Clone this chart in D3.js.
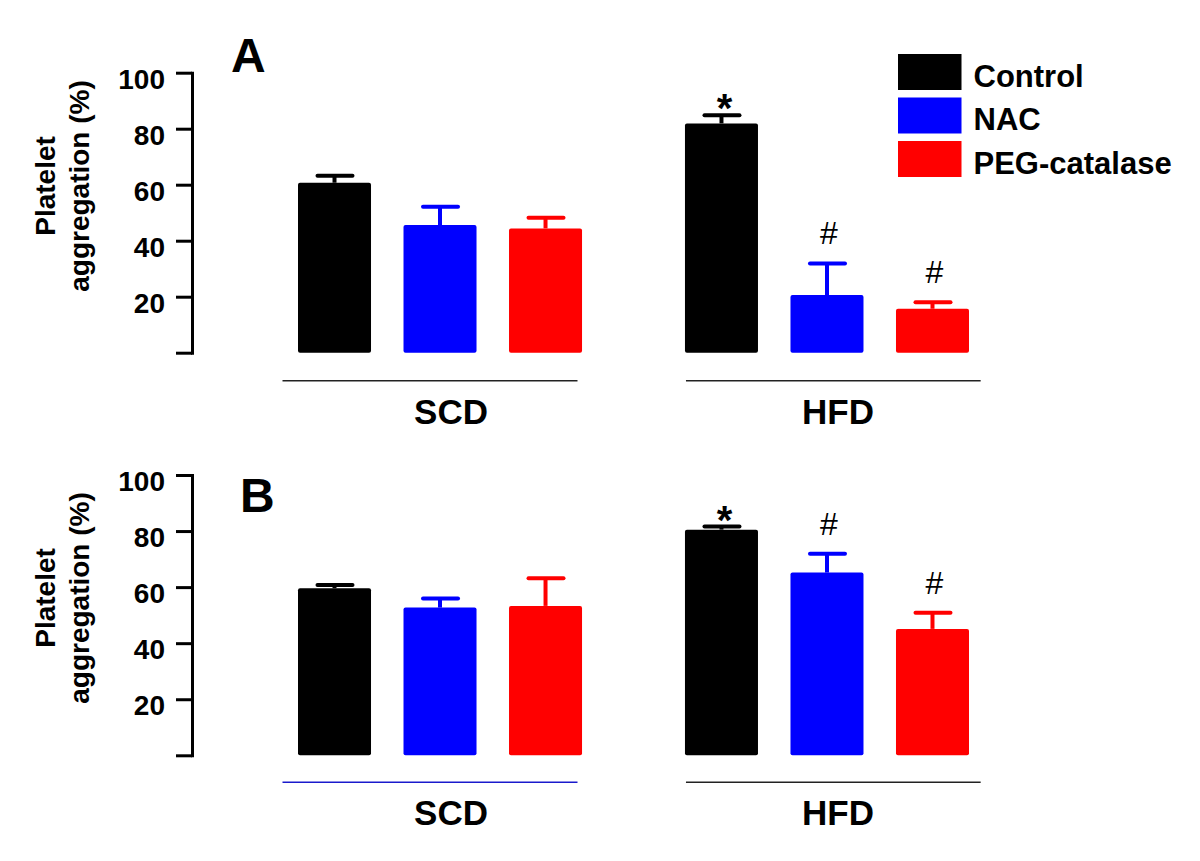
<!DOCTYPE html>
<html>
<head>
<meta charset="utf-8">
<script src="https://cdn.jsdelivr.net/npm/d3@7"></script>
<style>
  html, body { margin: 0; padding: 0; background: #ffffff; }
  svg { display: block; font-family: "Liberation Sans", Arial, Helvetica, sans-serif; }
</style>
</head>
<body>
<script>
// ---- data ----
const groups = ["SCD", "HFD"];
const series = ["Control", "NAC", "PEG-catalase"];
const seriesColors = ["#000000", "#0000ff", "#ff0000"];
const yTicks = [0, 20, 40, 60, 80, 100];

const panelA_SCD = [60.7, 45.6, 44.4];
const panelA_HFD = [81.9, 20.6, 15.7];
const panelA_SCD_err = [2.5, 6.5, 3.8];
const panelA_HFD_err = [2.9, 11.3, 2.3];
const panelA_SCD_marks = ["", "", ""];
const panelA_HFD_marks = ["*", "#", "#"];

const panelB_SCD = [59.6, 52.7, 53.3];
const panelB_HFD = [80.5, 65.2, 45.1];
const panelB_SCD_err = [1.2, 3.2, 9.9];
const panelB_HFD_err = [1.1, 6.7, 5.8];
const panelB_SCD_marks = ["", "", ""];
const panelB_HFD_marks = ["*", "#", "#"];

const yTitleLines = ["Platelet", "aggregation (%)"];

// ---- build ----
const svg = d3.select("body").append("svg")
  .attr("width", 1200).attr("height", 861);

const x0 = d3.scaleBand().domain(groups).range([298, 969]).paddingInner(0.266).paddingOuter(0);
const x1 = d3.scaleBand().domain(series).range([0, x0.bandwidth()]).paddingInner(0.308).paddingOuter(0);

function buildRows(means, errs, marks) {
  return series.map((s, i) => ({ series: s, mean: means[i], err: errs[i], mark: marks[i], color: seriesColors[i] }));
}

function drawPanel(opt) {
  const y = d3.scaleLinear().domain([0, 100]).range(opt.yRange);
  const g = svg.append("g");

  // axis
  const axis = d3.axisLeft(y)
    .tickValues(yTicks)
    .tickSize(16)
    .tickSizeOuter(0)
    .tickPadding(11)
    .tickFormat(d => d === 0 ? "" : d);
  const ax = g.append("g").attr("transform", "translate(192,0)").call(axis);
  ax.select(".domain").attr("stroke", "#000").attr("stroke-width", 3).attr("stroke-linecap", "square");
  ax.selectAll(".tick line").attr("stroke", "#000").attr("stroke-width", 3);
  ax.selectAll(".tick text")
    .attr("fill", "#000")
    .attr("font-size", 28)
    .attr("font-weight", "bold")
    .attr("font-family", "'Liberation Sans', Arial, sans-serif")
    .attr("dy", "0.56em");

  // y title
  const t = g.append("text")
    .attr("transform", `translate(0,${opt.titleY}) rotate(-90)`)
    .attr("text-anchor", "middle")
    .attr("font-size", 28)
    .attr("font-weight", "bold")
    .attr("fill", "#000");
  t.append("tspan").attr("x", 0).attr("y", 55).text(yTitleLines[0]);
  t.append("tspan").attr("x", 0).attr("y", 89).text(yTitleLines[1]);

  // panel letter
  g.append("text")
    .attr("x", opt.letterX).attr("y", opt.letterY)
    .attr("font-size", 48).attr("font-weight", "bold").attr("fill", "#000")
    .text(opt.letter);

  // groups
  opt.groupData.forEach((gd, gi) => {
    const gx = x0(gd.group);
    const gg = g.append("g").attr("transform", `translate(${gx},0)`);
    const rows = gd.rows;

    // error bars
    const eb = gg.selectAll(".eb").data(rows).join("g").attr("class", "eb");
    eb.append("line")
      .attr("x1", d => x1(d.series) + x1.bandwidth() / 2)
      .attr("x2", d => x1(d.series) + x1.bandwidth() / 2)
      .attr("y1", d => y(d.mean))
      .attr("y2", d => y(d.mean + d.err))
      .attr("stroke", d => d.color).attr("stroke-width", 4);
    eb.append("line")
      .attr("x1", d => x1(d.series) + x1.bandwidth() / 2 - 17)
      .attr("x2", d => x1(d.series) + x1.bandwidth() / 2 + 18)
      .attr("y1", d => y(d.mean + d.err))
      .attr("y2", d => y(d.mean + d.err))
      .attr("stroke", d => d.color).attr("stroke-width", 4).attr("stroke-linecap", "round");

    // bars
    gg.selectAll(".bar").data(rows).join("rect").attr("class", "bar")
      .attr("x", d => x1(d.series))
      .attr("y", d => y(d.mean))
      .attr("width", x1.bandwidth())
      .attr("height", d => y(0) - y(d.mean))
      .attr("rx", 2)
      .attr("fill", d => d.color);

    // significance marks
    gg.selectAll(".mark").data(rows.filter(d => d.mark)).join("text").attr("class", "mark")
      .attr("x", d => x1(d.series) + x1.bandwidth() / 2 + (d.mark === "*" ? 3 : 2))
      .attr("y", d => d.mark === "*" ? y(d.mean + d.err) + 7 : y(d.mean + d.err) - 19)
      .attr("text-anchor", "middle")
      .attr("font-size", d => d.mark === "*" ? 40 : 32)
      .attr("font-weight", d => d.mark === "*" ? "bold" : "normal")
      .attr("font-family", "'Liberation Sans', Arial, sans-serif")
      .attr("fill", "#000")
      .text(d => d.mark);

    // group line
    const lx = gi === 0 ? [-15.5, 279.5] : [1, 295.7];
    gg.append("line")
      .attr("x1", lx[0]).attr("x2", lx[1])
      .attr("y1", opt.lineY).attr("y2", opt.lineY)
      .attr("stroke", opt.lineColors[gi]).attr("stroke-width", 1.5);

    // group label
    gg.append("text")
      .attr("x", x0.bandwidth() / 2 + 11)
      .attr("y", opt.labelY)
      .attr("text-anchor", "middle")
      .attr("font-size", 35).attr("font-weight", "bold").attr("fill", "#000")
      .text(gd.group);
  });
}

drawPanel({
  yRange: [352.7, 72.7],
  titleY: 186,
  letter: "A", letterX: 231, letterY: 71.7,
  lineY: 380.7, labelY: 424,
  lineColors: ["#222222", "#222222"],
  groupData: [
    { group: "SCD", rows: buildRows(panelA_SCD, panelA_SCD_err, panelA_SCD_marks) },
    { group: "HFD", rows: buildRows(panelA_HFD, panelA_HFD_err, panelA_HFD_marks) }
  ]
});

drawPanel({
  yRange: [755.3, 475],
  titleY: 598,
  letter: "B", letterX: 240, letterY: 511.7,
  lineY: 782.2, labelY: 824.5,
  lineColors: ["#1a1acc", "#222222"],
  groupData: [
    { group: "SCD", rows: buildRows(panelB_SCD, panelB_SCD_err, panelB_SCD_marks) },
    { group: "HFD", rows: buildRows(panelB_HFD, panelB_HFD_err, panelB_HFD_marks) }
  ]
});

// legend
const legend = svg.append("g").attr("transform", "translate(898,54)");
const li = legend.selectAll(".li").data(series).join("g").attr("class", "li")
  .attr("transform", (d, i) => `translate(0,${i * 43.5})`);
li.append("rect").attr("width", 63.5).attr("height", 36)
  .attr("fill", (d, i) => seriesColors[i]);
li.append("text").attr("x", 75.5).attr("y", 32.7)
  .attr("font-size", 31).attr("font-weight", "bold").attr("fill", "#000")
  .text(d => d);
</script>
</body>
</html>
